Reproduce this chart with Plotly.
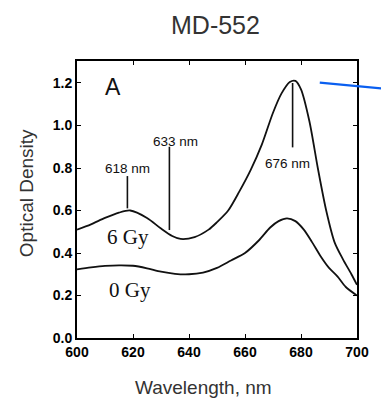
import plotly.graph_objects as go

# 6 Gy spectrum
wl_6gy = [600, 605, 610, 615, 619, 625, 630, 634, 637, 642, 647, 650, 654, 658, 662, 666, 670, 673, 676, 678, 680, 683, 686, 689, 692, 695, 698, 700]
od_6gy = [0.51, 0.535, 0.565, 0.59, 0.60, 0.565, 0.515, 0.48, 0.466, 0.475, 0.51, 0.545, 0.60, 0.69, 0.79, 0.91, 1.06, 1.15, 1.205, 1.21, 1.17, 1.02, 0.80, 0.60, 0.45, 0.37, 0.30, 0.25]

# 0 Gy spectrum
wl_0gy = [600, 605, 610, 615, 620, 625, 630, 635, 640, 645, 650, 655, 660, 665, 669, 672, 675, 678, 681, 684, 687, 690, 693, 696, 700]
od_0gy = [0.323, 0.332, 0.339, 0.342, 0.340, 0.328, 0.312, 0.302, 0.300, 0.308, 0.33, 0.365, 0.40, 0.46, 0.52, 0.55, 0.563, 0.55, 0.51, 0.45, 0.385, 0.33, 0.29, 0.24, 0.20]

# peak marker lines: wavelength, y at curve, y at line end, label, label y
peak_wl = [618, 633, 677]
peak_y0 = [0.61, 0.508, 1.20]
peak_y1 = [0.762, 0.90, 0.897]
peak_labels = ["618 nm", "633 nm", "676 nm"]
peak_label_x = [618, 635, 675]
peak_label_y = [0.80, 0.925, 0.82]

curve_labels = ["6 Gy", "0 Gy"]
curve_label_x = [618.2, 618.9]
curve_label_y = [0.475, 0.225]

x_ticks = [600, 620, 640, 660, 680, 700]
y_ticks = [0.0, 0.2, 0.4, 0.6, 0.8, 1.0, 1.2]
y_tick_text = ["0.0", "0.2", "0.4", "0.6", "0.8", "1.0", "1.2"]

fig = go.Figure()
line_style = dict(color="#111111", width=1.8, shape="spline", smoothing=0.8)
fig.add_trace(go.Scatter(x=wl_6gy, y=od_6gy, mode="lines", line=line_style, showlegend=False))
fig.add_trace(go.Scatter(x=wl_0gy, y=od_0gy, mode="lines", line=line_style, showlegend=False))

for wl, a, b in zip(peak_wl, peak_y0, peak_y1):
    fig.add_trace(go.Scatter(x=[wl, wl], y=[a, b], mode="lines",
                             line=dict(color="#111111", width=1.6), showlegend=False))

annotations = []
for lbl, x, y in zip(peak_labels, peak_label_x, peak_label_y):
    annotations.append(dict(x=x, y=y, xref="x", yref="y", text=lbl, showarrow=False,
                            font=dict(family="Arial", size=13.5, color="#111111")))
for lbl, x, y in zip(curve_labels, curve_label_x, curve_label_y):
    annotations.append(dict(x=x, y=y, xref="x", yref="y", text=lbl, showarrow=False,
                            font=dict(family="Liberation Serif", size=21, color="#111111")))
annotations.append(dict(x=612.7, y=1.18, xref="x", yref="y", text="A", showarrow=False,
                        font=dict(family="Arial", size=23, color="#111111")))
annotations.append(dict(x=0.495, y=1.13, xref="paper", yref="paper", text="MD-552", showarrow=False,
                        yanchor="middle", font=dict(family="Arial", size=25, color="#333333")))
annotations.append(dict(x=0.45, y=-0.18, xref="paper", yref="paper", text="Wavelength, nm", showarrow=False,
                        yanchor="middle", font=dict(family="Arial", size=19, color="#333333")))
annotations.append(dict(x=-0.182, y=0.523, xref="paper", yref="paper", text="Optical Density", showarrow=False,
                        textangle=-90, xanchor="center", yanchor="middle",
                        font=dict(family="Arial", size=19, color="#333333")))

fig.update_layout(
    width=381, height=398,
    margin=dict(l=77, r=13, t=61, b=60),
    paper_bgcolor="white", plot_bgcolor="white",
    annotations=annotations,
    shapes=[dict(type="line", xref="paper", yref="paper", x0=0.867, y0=0.922, x1=1.40, y1=0.872,
                 line=dict(color="#0a5ff0", width=2.2))],
)
fig.update_xaxes(range=[600, 700], tickvals=x_ticks, ticks="inside", ticklen=4, tickwidth=1.2,
                 tickcolor="black", showline=True, linecolor="black", linewidth=2, mirror="ticks",
                 showgrid=False, zeroline=False,
                 tickfont=dict(family="Arial", size=14, color="black", weight="bold"))
fig.update_yaxes(range=[0, 1.3035], tickvals=y_ticks, ticktext=y_tick_text, ticks="inside", ticklen=4,
                 tickwidth=1.2, tickcolor="black", showline=True, linecolor="black", linewidth=2,
                 mirror="ticks", showgrid=False, zeroline=False,
                 tickfont=dict(family="Arial", size=14, color="black", weight="bold"))

fig.write_html("out.html")
